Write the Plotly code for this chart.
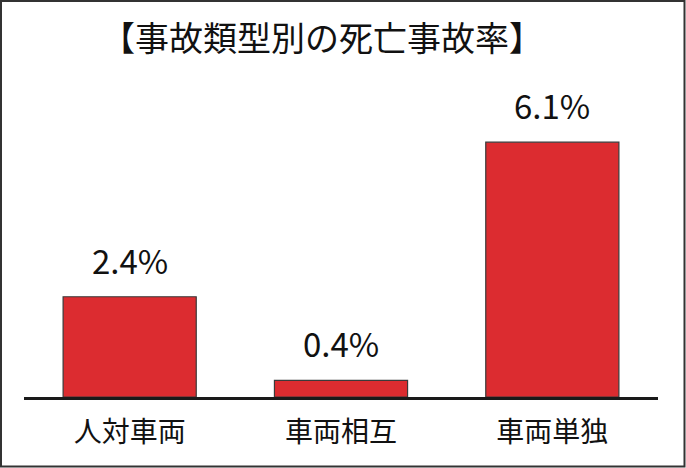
import plotly.graph_objects as go

categories = ["人対車両", "車両相互", "車両単独"]
values = [2.4, 0.4, 6.1]
title_text = "【事故類型別の死亡事故率】"

W, H = 686, 468
ml, mr, mt, mb = 24, 28, 21, 71
pw, ph = W - ml - mr, H - mt - mb

fig = go.Figure(go.Bar(
    x=categories, y=values, width=0.63,
    marker=dict(color="#DC2C30", line=dict(color="#3a3a3a", width=1.2)),
    hoverinfo="skip",
))

for c, v in zip(categories, values):
    fig.add_annotation(x=c, y=v, text=f"{v}%", showarrow=False, yanchor="bottom",
                       yshift=11, font=dict(family="Noto Sans CJK JP", size=33, color="#111"))

fig.add_annotation(xref="paper", yref="paper", x=(322 - ml) / pw, y=(H - mb - 37) / ph,
                   text=title_text, showarrow=False, xanchor="center", yanchor="middle",
                   font=dict(family="Noto Sans CJK JP", size=34, color="#111"))

# outer border
fig.add_shape(type="rect", xref="paper", yref="paper",
              x0=(1 - ml) / pw, x1=(W - 1.5 - ml) / pw,
              y0=(H - mb - (H - 1.5)) / ph, y1=(H - mb - 1) / ph,
              line=dict(color="#333", width=2), fillcolor="rgba(0,0,0,0)", layer="above")

fig.update_layout(
    width=W, height=H, margin=dict(l=ml, r=mr, t=mt, b=mb),
    paper_bgcolor="white", plot_bgcolor="white", showlegend=False,
    bargap=0.37,
    font=dict(family="Noto Sans CJK JP", color="#111"),
)
fig.update_xaxes(showline=True, linecolor="#1a1a1a", linewidth=3, ticks="",
                 tickfont=dict(family="Noto Sans CJK JP", size=28, color="#111"),
                 showgrid=False, zeroline=False, ticklabelstandoff=8)
fig.update_yaxes(range=[0, 9], visible=False, showgrid=False, zeroline=False)

fig.write_html("out.html", config={"displayModeBar": False},
               post_script="document.body.style.margin='0';document.body.style.overflow='hidden';")
